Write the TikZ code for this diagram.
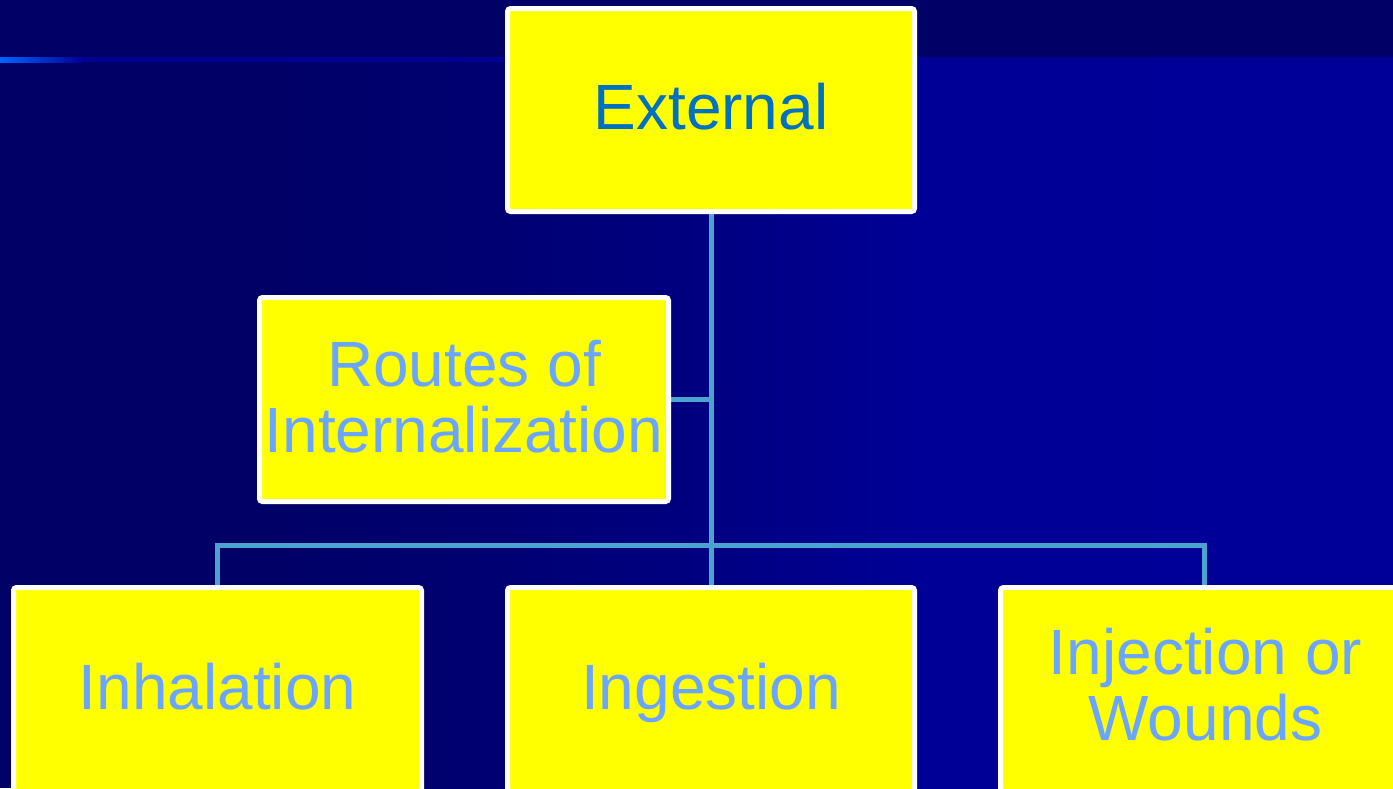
\documentclass[tikz,border=0pt]{standalone}
\usepackage{fontspec}
\setmainfont{Liberation Sans}
\usetikzlibrary{backgrounds}
\definecolor{bgA}{HTML}{000066}
\definecolor{bgB}{HTML}{000070}
\definecolor{bgC}{HTML}{000080}
\definecolor{bgD}{HTML}{000096}
\definecolor{bgE}{HTML}{000099}
\definecolor{lineA}{HTML}{0066FF}
\definecolor{lineB}{HTML}{000094}
\definecolor{boxyellow}{HTML}{FFFF00}
\definecolor{extblue}{HTML}{0070C0}
\definecolor{lightblue}{HTML}{6AA5FF}
\definecolor{connblue}{HTML}{4DA3CF}
\begin{document}
\begin{tikzpicture}[x=1pt,y=-1pt,
  box/.style={draw=white,line width=5pt,fill=boxyellow,rounded corners=3pt,inner sep=0pt,minimum height=204pt},
  lbl/.style={inner sep=0pt,align=center,font=\fontsize{64}{66}\selectfont,text=lightblue},
  conn/.style={draw=connblue,line width=5pt}]
\useasboundingbox (0,0) rectangle (1393,788);
% boxes
\node[box,minimum width=407pt,minimum height=203pt] (ext) at (711,110) {};
\node[box,minimum width=409pt] (rou) at (464,399.5) {};
\node[box,minimum width=408pt] (inh) at (217.5,689.5) {};
\node[box,minimum width=407pt] (ing) at (711,689.5) {};
\node[box,minimum width=408pt] (inj) at (1204.5,689.5) {};
% texts
\node[lbl,anchor=base,text=extblue] (ext-t) at (711,129) {External};
\node[lbl,anchor=south] (rou-t) at (464,453.3) {Routes of\\Internalization};
\node[lbl,anchor=base] (inh-t) at (217.5,709.3) {Inhalation};
\node[lbl,anchor=base] (ing-t) at (711,709.3) {Ingestion};
\node[lbl,anchor=south] (inj-t) at (1205.5,741.7) {Injection or\\Wounds};
\coordinate (bus) at (711,545.5);
\begin{scope}[on background layer]
  % background
  \fill[bgA] (0,0) rectangle (250,788);
  \fill[left color=bgA,right color=bgB] (250,0) rectangle (450,788);
  \fill[left color=bgB,right color=bgC] (450,0) rectangle (700,788);
  \fill[left color=bgC,right color=bgD] (700,0) rectangle (920,788);
  \fill[left color=bgD,right color=bgE] (920,0) rectangle (1393,788);
  \fill[bgA] (0,0) rectangle (1393,57);
  \fill[lineB] (0,57) rectangle (1393,62);
  \fill[left color=lineA,right color=lineB] (0,57) rectangle (82,62);
  % connectors
  \draw[conn] (ext.south) -- (ing.north);
  \draw[conn] (rou.east) -- (rou.east -| ext.south);
  \draw[conn] (inh.north) |- (bus) -| (inj.north);
\end{scope}
\end{tikzpicture}
\end{document}
